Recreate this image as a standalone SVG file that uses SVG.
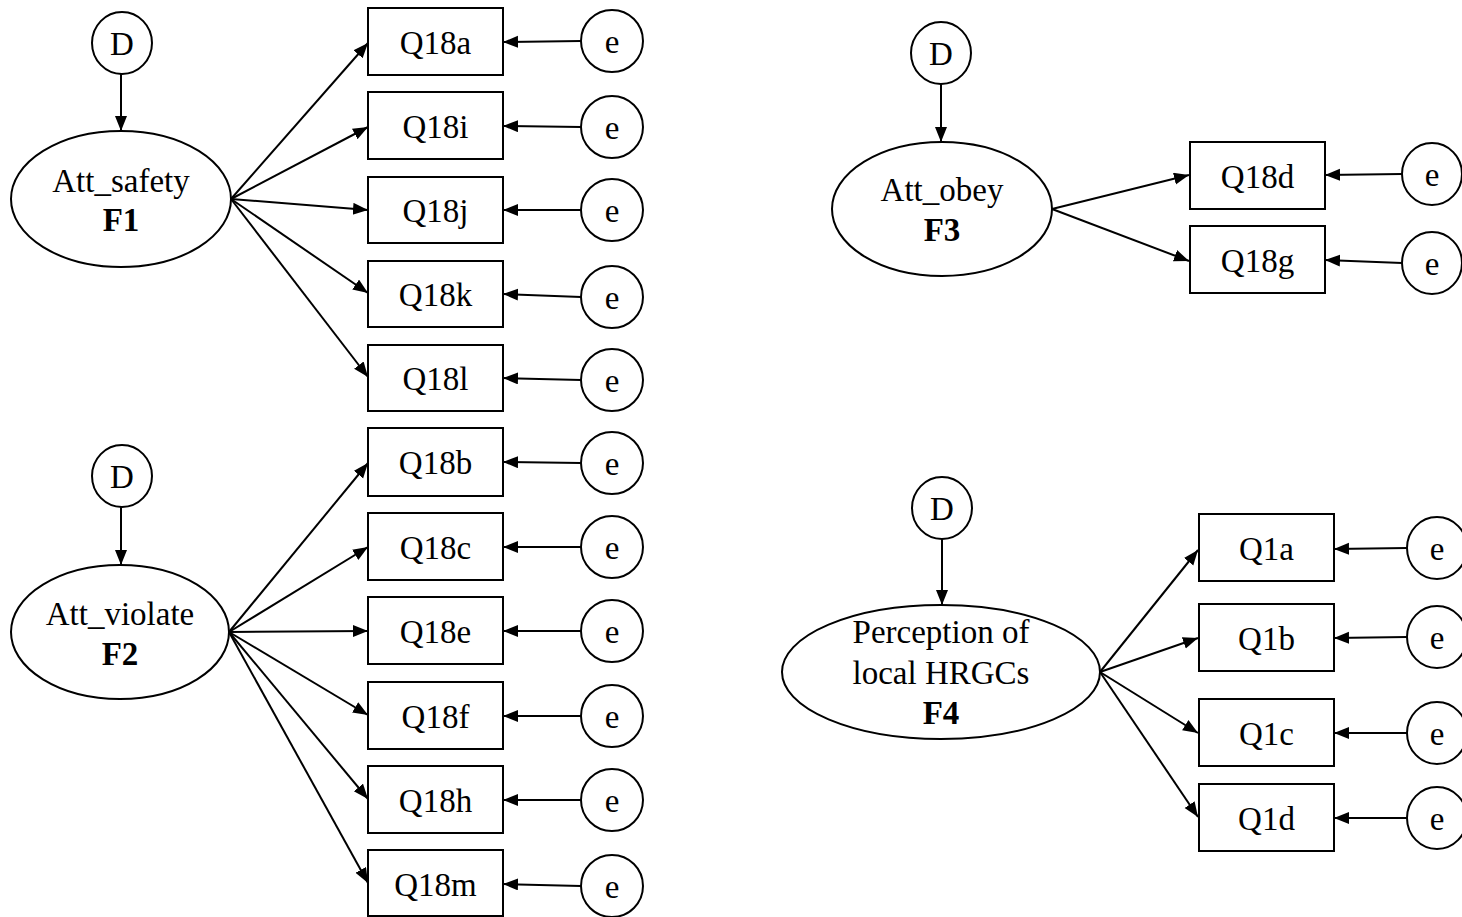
<svg xmlns="http://www.w3.org/2000/svg" width="1462" height="917" viewBox="0 0 1462 917">
  <style>
    .shape { fill: #ffffff; stroke: #000000; stroke-width: 2; }
    .link { stroke: #000000; stroke-width: 2; fill: none; marker-end: url(#head); }
    text { font-family: "Liberation Serif", "Times New Roman", serif; font-size: 33px; fill: #000000; text-anchor: middle; }
    .bold { font-weight: bold; }
  </style>
  <defs>
    <marker id="head" markerUnits="userSpaceOnUse" markerWidth="16" markerHeight="13" refX="15" refY="6" orient="auto">
      <path d="M0,0 L15,6 L0,12 Z" fill="#000000"/>
    </marker>
  </defs>
  <rect width="1462" height="917" fill="#ffffff"/>

  <!-- connectors -->
  <g id="connectors">
    <!-- F1 -->
    <line class="link" x1="121" y1="74" x2="121" y2="131"/>
    <line class="link" x1="231" y1="199" x2="368" y2="43"/>
    <line class="link" x1="231" y1="199" x2="368" y2="127"/>
    <line class="link" x1="231" y1="199" x2="368" y2="210"/>
    <line class="link" x1="231" y1="199" x2="368" y2="293"/>
    <line class="link" x1="231" y1="199" x2="368" y2="377"/>
    <line class="link" x1="581" y1="41" x2="503" y2="42"/>
    <line class="link" x1="581" y1="127" x2="503" y2="126"/>
    <line class="link" x1="581" y1="210" x2="503" y2="210"/>
    <line class="link" x1="581" y1="297" x2="503" y2="294"/>
    <line class="link" x1="581" y1="380" x2="503" y2="378"/>
    <!-- F2 -->
    <line class="link" x1="121" y1="507" x2="121" y2="565"/>
    <line class="link" x1="229" y1="632" x2="368" y2="463"/>
    <line class="link" x1="229" y1="632" x2="368" y2="547"/>
    <line class="link" x1="229" y1="632" x2="368" y2="631"/>
    <line class="link" x1="229" y1="632" x2="368" y2="715"/>
    <line class="link" x1="229" y1="632" x2="368" y2="799"/>
    <line class="link" x1="229" y1="632" x2="368" y2="883"/>
    <line class="link" x1="581" y1="463" x2="503" y2="462"/>
    <line class="link" x1="581" y1="547" x2="503" y2="547"/>
    <line class="link" x1="581" y1="631" x2="503" y2="631"/>
    <line class="link" x1="581" y1="716" x2="503" y2="716"/>
    <line class="link" x1="581" y1="800" x2="503" y2="800"/>
    <line class="link" x1="581" y1="886" x2="503" y2="884"/>
    <!-- F3 -->
    <line class="link" x1="941" y1="84" x2="941" y2="142"/>
    <line class="link" x1="1052" y1="209" x2="1189" y2="175"/>
    <line class="link" x1="1052" y1="209" x2="1189" y2="261"/>
    <line class="link" x1="1402" y1="174" x2="1325" y2="175"/>
    <line class="link" x1="1402" y1="263" x2="1325" y2="260"/>
    <!-- F4 -->
    <line class="link" x1="942" y1="539" x2="942" y2="605"/>
    <line class="link" x1="1100" y1="672" x2="1198" y2="550"/>
    <line class="link" x1="1100" y1="672" x2="1198" y2="638"/>
    <line class="link" x1="1100" y1="672" x2="1198" y2="733"/>
    <line class="link" x1="1100" y1="672" x2="1198" y2="817"/>
    <line class="link" x1="1407" y1="548" x2="1334" y2="549"/>
    <line class="link" x1="1407" y1="637" x2="1334" y2="638"/>
    <line class="link" x1="1407" y1="733" x2="1334" y2="733"/>
    <line class="link" x1="1407" y1="818" x2="1334" y2="818"/>
  </g>

  <!-- factor F1: Att_safety -->
  <g id="d1"><ellipse class="shape" cx="122" cy="43" rx="30" ry="31"/><text x="122" y="55">D</text></g>
  <g id="f1"><ellipse class="shape" cx="121" cy="199" rx="110" ry="68"/><text x="121" y="192">Att_safety</text><text class="bold" x="121" y="231">F1</text></g>
  <g id="q18a"><rect class="shape" x="368" y="8" width="135" height="67"/><text x="435.5" y="54">Q18a</text></g>
  <g id="q18i"><rect class="shape" x="368" y="92" width="135" height="67"/><text x="435.5" y="138">Q18i</text></g>
  <g id="q18j"><rect class="shape" x="368" y="177" width="135" height="66"/><text x="435.5" y="222">Q18j</text></g>
  <g id="q18k"><rect class="shape" x="368" y="261" width="135" height="66"/><text x="435.5" y="306">Q18k</text></g>
  <g id="q18l"><rect class="shape" x="368" y="345" width="135" height="66"/><text x="435.5" y="390">Q18l</text></g>
  <g id="e1a"><ellipse class="shape" cx="612" cy="41" rx="31" ry="31"/><text x="612" y="53">e</text></g>
  <g id="e1i"><ellipse class="shape" cx="612" cy="127" rx="31" ry="31"/><text x="612" y="139">e</text></g>
  <g id="e1j"><ellipse class="shape" cx="612" cy="210" rx="31" ry="31"/><text x="612" y="222">e</text></g>
  <g id="e1k"><ellipse class="shape" cx="612" cy="297" rx="31" ry="31"/><text x="612" y="309">e</text></g>
  <g id="e1l"><ellipse class="shape" cx="612" cy="380" rx="31" ry="31"/><text x="612" y="392">e</text></g>

  <!-- factor F2: Att_violate -->
  <g id="d2"><ellipse class="shape" cx="122" cy="476" rx="30" ry="31"/><text x="122" y="488">D</text></g>
  <g id="f2"><ellipse class="shape" cx="120" cy="632" rx="109" ry="67"/><text x="120" y="625">Att_violate</text><text class="bold" x="120" y="665">F2</text></g>
  <g id="q18b"><rect class="shape" x="368" y="428" width="135" height="68"/><text x="435.5" y="474">Q18b</text></g>
  <g id="q18c"><rect class="shape" x="368" y="513" width="135" height="67"/><text x="435.5" y="559">Q18c</text></g>
  <g id="q18e"><rect class="shape" x="368" y="597" width="135" height="67"/><text x="435.5" y="643">Q18e</text></g>
  <g id="q18f"><rect class="shape" x="368" y="682" width="135" height="67"/><text x="435.5" y="728">Q18f</text></g>
  <g id="q18h"><rect class="shape" x="368" y="766" width="135" height="67"/><text x="435.5" y="812">Q18h</text></g>
  <g id="q18m"><rect class="shape" x="368" y="850" width="135" height="66"/><text x="435.5" y="896">Q18m</text></g>
  <g id="e2b"><ellipse class="shape" cx="612" cy="463" rx="31" ry="31"/><text x="612" y="475">e</text></g>
  <g id="e2c"><ellipse class="shape" cx="612" cy="547" rx="31" ry="31"/><text x="612" y="559">e</text></g>
  <g id="e2e"><ellipse class="shape" cx="612" cy="631" rx="31" ry="31"/><text x="612" y="643">e</text></g>
  <g id="e2f"><ellipse class="shape" cx="612" cy="716" rx="31" ry="31"/><text x="612" y="728">e</text></g>
  <g id="e2h"><ellipse class="shape" cx="612" cy="800" rx="31" ry="31"/><text x="612" y="812">e</text></g>
  <g id="e2m"><ellipse class="shape" cx="612" cy="886" rx="31" ry="31"/><text x="612" y="898">e</text></g>

  <!-- factor F3: Att_obey -->
  <g id="d3"><ellipse class="shape" cx="941" cy="53" rx="30" ry="31"/><text x="941" y="65">D</text></g>
  <g id="f3"><ellipse class="shape" cx="942" cy="209" rx="110" ry="67"/><text x="942" y="201">Att_obey</text><text class="bold" x="942" y="241">F3</text></g>
  <g id="q18d"><rect class="shape" x="1190" y="142" width="135" height="67"/><text x="1257.5" y="188">Q18d</text></g>
  <g id="q18g"><rect class="shape" x="1190" y="226" width="135" height="67"/><text x="1257.5" y="272">Q18g</text></g>
  <g id="e3d"><ellipse class="shape" cx="1432" cy="174" rx="30" ry="31"/><text x="1432" y="186">e</text></g>
  <g id="e3g"><ellipse class="shape" cx="1432" cy="263" rx="30" ry="31"/><text x="1432" y="275">e</text></g>

  <!-- factor F4: Perception of local HRGCs -->
  <g id="d4"><ellipse class="shape" cx="942" cy="508" rx="30" ry="31"/><text x="942" y="520">D</text></g>
  <g id="f4"><ellipse class="shape" cx="941" cy="672" rx="159" ry="67"/><text x="941" y="643">Perception of</text><text x="941" y="684">local HRGCs</text><text class="bold" x="941" y="724">F4</text></g>
  <g id="q1a"><rect class="shape" x="1199" y="514" width="135" height="67"/><text x="1266.5" y="560">Q1a</text></g>
  <g id="q1b"><rect class="shape" x="1199" y="604" width="135" height="67"/><text x="1266.5" y="650">Q1b</text></g>
  <g id="q1c"><rect class="shape" x="1199" y="699" width="135" height="67"/><text x="1266.5" y="745">Q1c</text></g>
  <g id="q1d"><rect class="shape" x="1199" y="784" width="135" height="67"/><text x="1266.5" y="830">Q1d</text></g>
  <g id="e4a"><ellipse class="shape" cx="1437" cy="548" rx="30" ry="31"/><text x="1437" y="560">e</text></g>
  <g id="e4b"><ellipse class="shape" cx="1437" cy="637" rx="30" ry="31"/><text x="1437" y="649">e</text></g>
  <g id="e4c"><ellipse class="shape" cx="1437" cy="733" rx="30" ry="31"/><text x="1437" y="745">e</text></g>
  <g id="e4d"><ellipse class="shape" cx="1437" cy="818" rx="30" ry="31"/><text x="1437" y="830">e</text></g>
</svg>
